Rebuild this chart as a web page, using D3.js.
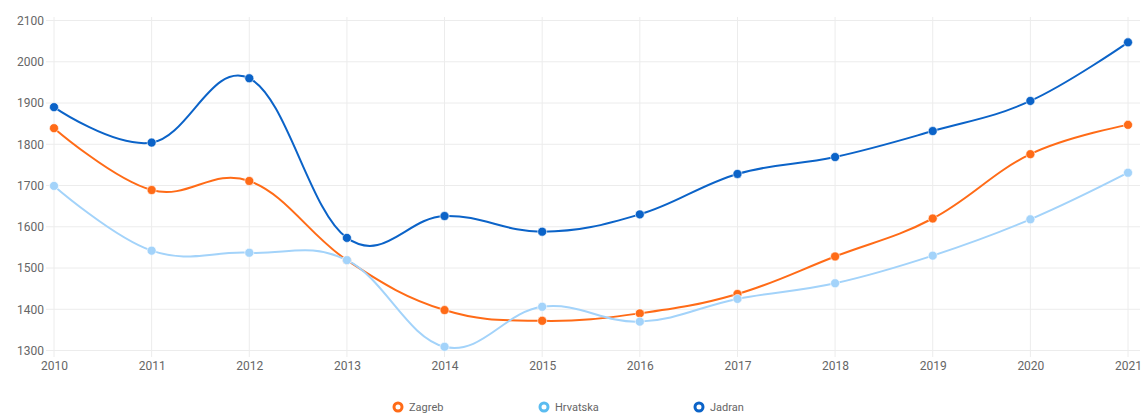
<!DOCTYPE html>
<html>
<head>
<meta charset="utf-8">
<script src="https://cdn.jsdelivr.net/npm/d3@7"></script>
<style>
  body { margin: 0; background: #fff; }
  text { font-family: Roboto, "Noto Sans", sans-serif; }
</style>
</head>
<body>
<div id="chart"></div>
<script>
// chart data
var years = [2010, 2011, 2012, 2013, 2014, 2015, 2016, 2017, 2018, 2019, 2020, 2021];
var zagreb = [1839, 1689, 1711, 1519, 1398, 1372, 1390, 1437, 1528, 1620, 1776, 1847];
var hrvatska = [1699, 1542, 1537, 1519, 1309, 1406, 1370, 1425, 1463, 1530, 1618, 1731];
var jadran = [1890, 1804, 1960, 1573, 1626, 1588, 1630, 1728, 1769, 1832, 1905, 2047];
var yTicks = [1300, 1400, 1500, 1600, 1700, 1800, 1900, 2000, 2100];

var series = [
    {name: 'Zagreb', values: zagreb, color: '#ff6b17'},
    {name: 'Hrvatska', values: hrvatska, color: '#a3d3fa'},
    {name: 'Jadran', values: jadran, color: '#0b63c8'}
];

function drawChart(){

    var width = 1143,
        height = 417;

    var svg = d3.select('#chart')
        .append('svg')
        .attr('width', width)
        .attr('height', height);

    // scales
    var x = d3.scalePoint()
        .domain(years)
        .range([54, 1128]);

    var y = d3.scaleLinear()
        .domain([1300, 2100])
        .range([350.5, 20.5]);

    // grid
    var grid = svg.append('g').attr('class', 'grid');

    grid.selectAll('.hgrid')
        .data(yTicks)
        .enter()
        .append('line')
        .attr('x1', 46)
        .attr('x2', 1140)
        .attr('y1', function(d){ return y(d); })
        .attr('y2', function(d){ return y(d); })
        .attr('stroke', '#ececec')
        .attr('stroke-width', 1);

    grid.selectAll('.vgrid')
        .data(years)
        .enter()
        .append('line')
        .attr('x1', function(d){ return x(d); })
        .attr('x2', function(d){ return x(d); })
        .attr('y1', 17)
        .attr('y2', 357)
        .attr('stroke', '#ececec')
        .attr('stroke-width', 1);

    // axes labels via d3 axes, no domain / ticks
    var yAxis = svg.append('g')
        .attr('transform', 'translate(44,0)')
        .call(d3.axisLeft(y).tickValues(yTicks).tickSize(0).tickPadding(0).tickFormat(d3.format('d')));

    var xAxis = svg.append('g')
        .attr('transform', 'translate(0,359)')
        .call(d3.axisBottom(x).tickSize(0).tickPadding(2).tickFormat(d3.format('d')));

    svg.selectAll('.domain').remove();
    svg.selectAll('.tick text')
        .attr('fill', '#666')
        .style('font-size', '12px')
        .style('font-family', 'Roboto, "Noto Sans", sans-serif');

    // lines
    var line = d3.line()
        .x(function(d, i){ return x(years[i]); })
        .y(function(d){ return y(d); })
        .curve(d3.curveCardinal.tension(-0.15));

    series.forEach(function(s){
        svg.append('path')
            .datum(s.values)
            .attr('fill', 'none')
            .attr('stroke', s.color)
            .attr('stroke-width', 2)
            .attr('d', line);
    });

    series.forEach(function(s){
        svg.selectAll('.pt-' + s.name)
            .data(s.values)
            .enter()
            .append('circle')
            .attr('cx', function(d, i){ return x(years[i]); })
            .attr('cy', function(d){ return y(d); })
            .attr('r', 4.5)
            .attr('fill', s.color)
            .attr('stroke', '#fff')
            .attr('stroke-opacity', 0.6)
            .attr('stroke-width', 1);
    });

    // legend
    var legendX = [398, 544, 699];
    var legend = svg.selectAll('.legend')
        .data(series)
        .enter()
        .append('g')
        .attr('transform', function(d, i){ return 'translate(' + legendX[i] + ',407)'; });

    legend.append('circle')
        .attr('r', 4)
        .attr('fill', '#fff')
        .attr('stroke', function(d){ return d.color === '#a3d3fa' ? '#5bbcf0' : d.color; })
        .attr('stroke-width', 3);

    legend.append('text')
        .attr('x', 11)
        .attr('y', 4)
        .attr('fill', '#666')
        .style('font-size', '11px')
        .text(function(d){ return d.name; });
}

window.onload = drawChart();
</script>
</body>
</html>
